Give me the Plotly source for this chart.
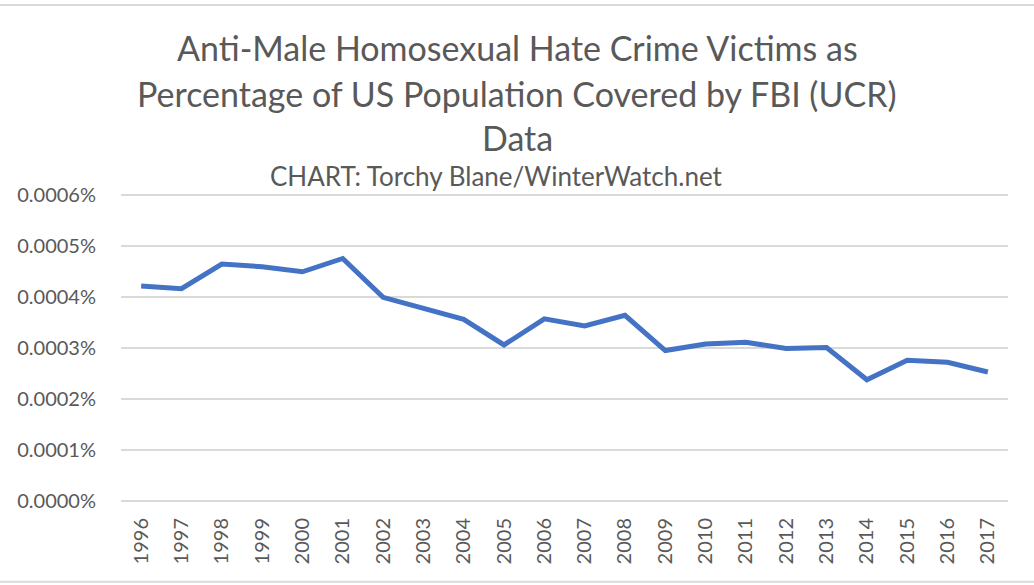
"""
Anti-male homosexual hate crime victims as % of covered US population.
"""

import plotly.graph_objects as go

years = [str(y) for y in range(1996, 2018)]
victims_pct = [
    0.000421, 0.000416, 0.000464, 0.000459, 0.000449, 0.000475,
    0.000399, 0.000378, 0.000356, 0.000306, 0.000357, 0.000343,
    0.000364, 0.000295, 0.000308, 0.000311, 0.000299, 0.000301,
    0.000238, 0.000276, 0.000272, 0.000253,
]
y_ticks = [0.0, 0.0001, 0.0002, 0.0003, 0.0004, 0.0005, 0.0006]
y_tick_text = [f"{v:.4f}%" for v in y_ticks]

title_lines = [
    "Anti-Male Homosexual Hate Crime Victims as",
    "Percentage of US Population Covered by FBI (UCR)",
    "Data",
]
subtitle = "CHART: Torchy Blane/WinterWatch.net"

FONT = "Lato"
GREY = "#595959"
GRID = "#d9d9d9"

# y axis padded a little past 0 and 0.0006 so plotly keeps the end gridlines
Y_LO, Y_HI = -0.000005, 0.000605
PX_PER_UNIT = 307.0 / 0.0006          # 0 -> 501.7px, 0.0006 -> 194.7px
PLOT_H = (Y_HI - Y_LO) * PX_PER_UNIT
BOTTOM = 585 - (501.7 - Y_LO * PX_PER_UNIT)
TOP = 585 - BOTTOM - PLOT_H

fig = go.Figure(go.Scatter(
    x=years,
    y=victims_pct,
    mode="lines",
    line=dict(color="#4472c4", width=5),
    hovertemplate="%{x}: %{y:.6f}%<extra></extra>",
))

def py(px):
    """pixel row -> paper y"""
    return (585 - BOTTOM - px) / PLOT_H

annotations = []
for text, ypix in zip(title_lines, [48, 94, 138]):
    annotations.append(dict(
        text=text, xref="paper", yref="paper",
        x=(517 - 121) / 887, y=py(ypix),
        xanchor="center", yanchor="middle", showarrow=False,
        font=dict(family=FONT, size=34, color=GREY),
    ))
annotations.append(dict(
    text=subtitle, xref="paper", yref="paper",
    x=(496 - 121) / 887, y=py(176),
    xanchor="center", yanchor="middle", showarrow=False,
    font=dict(family=FONT, size=26, color=GREY),
))

# light frame lines at top and bottom of the chart box
shapes = [
    dict(type="line", xref="paper", yref="paper",
         x0=-0.2, x1=1.1, y0=py(5), y1=py(5),
         line=dict(color=GRID, width=2)),
    dict(type="line", xref="paper", yref="paper",
         x0=-0.2, x1=1.1, y0=py(582), y1=py(582),
         line=dict(color=GRID, width=2)),
]

fig.update_layout(
    width=1034,
    height=585,
    margin=dict(l=121, r=26, t=TOP, b=BOTTOM),
    paper_bgcolor="white",
    plot_bgcolor="white",
    showlegend=False,
    annotations=annotations,
    shapes=shapes,
    font=dict(family=FONT, color=GREY),
)

fig.update_xaxes(
    type="category",
    range=[-0.5, len(years) - 0.5],
    tickangle=-90,
    tickfont=dict(family=FONT, size=20, color=GREY),
    showgrid=False,
    showline=False,
    ticks="outside",
    ticklen=5,
    tickcolor="rgba(0,0,0,0)",
)

fig.update_yaxes(
    range=[Y_LO, Y_HI],
    tickvals=y_ticks,
    ticktext=y_tick_text,
    tickfont=dict(family=FONT, size=20, color=GREY),
    showgrid=True,
    gridcolor=GRID,
    gridwidth=2,
    zeroline=False,
    showline=False,
    ticks="outside",
    ticklen=20,
    tickcolor="rgba(0,0,0,0)",
)

# drop the default page margin so the figure sits at the window origin
fig.write_html(
    "out.html",
    config={"displayModeBar": False},
    post_script="document.body.style.margin='0';",
)
